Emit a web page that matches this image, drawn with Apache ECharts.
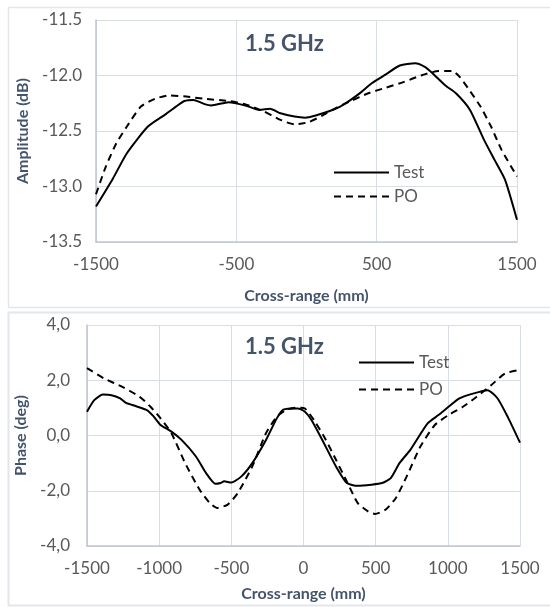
<!DOCTYPE html>
<html>
<head>
<meta charset="utf-8">
<script src="https://cdn.jsdelivr.net/npm/echarts@6/dist/echarts.min.js"></script>
<style>
html,body{margin:0;padding:0;background:#fff;}
#chart{width:550px;height:607px;}
</style>
</head>
<body>
<div id="chart"></div>
<script>
// ---- Top panel: Amplitude (dB) at 1.5 GHz ----
const ampTestX = [-1500,-1380,-1280,-1130,-1005,-930,-870,-805,-720,-680,-555,-435,-335,-260,-185,-85,-10,65,165,240,315,390,465,565,665,775,840,890,990,1065,1165,1265,1340,1415,1500];
const ampTestY = [-13.18,-12.93,-12.70,-12.46,-12.35,-12.28,-12.23,-12.22,-12.26,-12.27,-12.24,-12.27,-12.31,-12.30,-12.34,-12.37,-12.38,-12.36,-12.32,-12.28,-12.22,-12.15,-12.07,-11.99,-11.91,-11.89,-11.92,-11.97,-12.09,-12.16,-12.31,-12.58,-12.76,-12.94,-13.30];
const ampPOX = [-1500,-1430,-1355,-1280,-1180,-1080,-980,-855,-730,-555,-435,-310,-185,-85,15,115,215,315,440,565,690,815,940,1040,1090,1165,1240,1315,1390,1500];
const ampPOY = [-13.07,-12.82,-12.61,-12.46,-12.28,-12.21,-12.18,-12.19,-12.21,-12.23,-12.26,-12.32,-12.40,-12.44,-12.42,-12.36,-12.29,-12.23,-12.16,-12.11,-12.06,-12.00,-11.96,-11.96,-12.01,-12.14,-12.28,-12.46,-12.67,-12.91];

// ---- Bottom panel: Phase (deg) at 1.5 GHz ----
const phTestX = [-1500,-1450,-1390,-1330,-1270,-1230,-1160,-1085,-1040,-990,-915,-845,-745,-675,-610,-575,-550,-500,-430,-355,-260,-185,-140,-40,10,55,130,225,300,375,470,545,605,665,740,860,935,1005,1080,1150,1275,1345,1420,1500];
const phTestY = [0.86,1.28,1.48,1.46,1.34,1.18,1.06,0.92,0.70,0.38,0.14,-0.16,-0.76,-1.36,-1.75,-1.72,-1.66,-1.70,-1.48,-1.00,-0.16,0.62,0.94,0.98,0.86,0.56,-0.16,-1.12,-1.72,-1.82,-1.78,-1.72,-1.54,-1.00,-0.52,0.44,0.74,1.04,1.34,1.48,1.64,1.34,0.62,-0.26];
const phPOX = [-1500,-1380,-1255,-1135,-1060,-990,-915,-820,-720,-650,-600,-525,-455,-355,-260,-185,-115,-40,10,80,155,225,300,375,445,495,570,640,715,810,910,1005,1105,1200,1300,1395,1500];
const phPOY = [2.44,2.06,1.76,1.40,1.04,0.62,0.08,-1.00,-1.96,-2.44,-2.62,-2.50,-2.08,-1.12,0.08,0.68,0.94,1.01,0.98,0.50,-0.16,-0.88,-1.66,-2.44,-2.74,-2.84,-2.68,-2.26,-1.48,-0.40,0.38,0.74,1.04,1.40,1.82,2.24,2.38];

// ---- Labels ----
const seriesNames = ['Test', 'PO'];
const panelTitle = '1.5 GHz';
const xAxisTitle = 'Cross-range (mm)';
const ampAxisTitle = 'Amplitude (dB)';
const phAxisTitle = 'Phase (deg)';

const zip = (xs, ys) => xs.map((x, i) => [x, ys[i]]);

const FONT = 'Lato';
const TICK = '#595959';
const TITLE = '#44546A';
const GRIDC = '#D9DEE5';
const AXISC = '#BFC6D1';

function xAxisCfg(gridIndex, interval, gap) {
  return {
    type: 'value', gridIndex, min: -1500, max: 1500, interval,
    name: xAxisTitle, nameLocation: 'middle', nameGap: gap,
    nameTextStyle: {fontFamily: FONT, fontSize: 16, fontWeight: 'bold', color: TITLE},
    axisLine: {show: true, onZero: false, lineStyle: {color: AXISC, width: 1.5}},
    axisTick: {show: false},
    axisLabel: {fontFamily: FONT, fontSize: 17, color: TICK, margin: 14, showMinLabel: true, showMaxLabel: true, formatter: v => String(v)},
    splitLine: {show: true, lineStyle: {color: GRIDC, width: 1}}
  };
}
function yAxisCfg(gridIndex, min, max, interval, name, gap, fmt, margin) {
  return {
    type: 'value', gridIndex, min, max, interval,
    name, nameLocation: 'middle', nameGap: gap,
    nameTextStyle: {fontFamily: FONT, fontSize: 16, fontWeight: 'bold', color: TITLE},
    axisLine: {show: true, onZero: false, lineStyle: {color: AXISC, width: 1.5}},
    axisTick: {show: false},
    axisLabel: {fontFamily: FONT, fontSize: 17, color: TICK, margin, formatter: fmt},
    splitLine: {show: true, lineStyle: {color: GRIDC, width: 1}}
  };
}
const solid = {color: '#000', width: 2, type: 'solid'};
const dashed = {color: '#000', width: 2, type: [7, 5]};

const chart = echarts.init(document.getElementById('chart'), null, {renderer: 'canvas'});
chart.setOption({
  animation: false,
  backgroundColor: '#fff',
  graphic: [
    {type: 'rect', shape: {x: 8.5, y: 7.5, width: 560, height: 300}, style: {fill: 'none', stroke: '#E3E6EB', lineWidth: 1.5}},
    {type: 'rect', shape: {x: 8.5, y: 312.5, width: 560, height: 293}, style: {fill: 'none', stroke: '#E3E6EB', lineWidth: 2}}
  ],
  title: [
    {text: panelTitle, left: 240, top: 28, textStyle: {fontFamily: FONT, fontSize: 22, fontWeight: 'bold', color: TITLE}},
    {text: panelTitle, left: 240, top: 331, textStyle: {fontFamily: FONT, fontSize: 22, fontWeight: 'bold', color: TITLE}}
  ],
  legend: [
    {orient: 'vertical', left: 333, top: 164, padding: 0, itemWidth: 55, itemHeight: 14, itemGap: 7, itemStyle: {opacity: 0},
     data: seriesNames, textStyle: {fontFamily: FONT, fontSize: 17, color: TICK}},
    {orient: 'vertical', left: 358, top: 354, padding: 0, itemWidth: 55, itemHeight: 14, itemGap: 10, itemStyle: {opacity: 0},
     data: seriesNames, textStyle: {fontFamily: FONT, fontSize: 17, color: TICK}}
  ],
  grid: [
    {left: 96, right: 33, top: 20, height: 222},
    {left: 87, right: 30, top: 325, height: 221}
  ],
  xAxis: [xAxisCfg(0, 1000, 46), xAxisCfg(1, 500, 40)],
  yAxis: [
    yAxisCfg(0, -13.5, -11.5, 0.5, ampAxisTitle, 60, v => v.toFixed(1), 14),
    yAxisCfg(1, -4, 4, 2, phAxisTitle, 52, v => v.toFixed(1).replace('.', ','), 17)
  ],
  series: [
    {name: 'Test', type: 'line', xAxisIndex: 0, yAxisIndex: 0, data: zip(ampTestX, ampTestY), showSymbol: false, symbol: 'none', smooth: 0.2, lineStyle: solid, itemStyle: {color: '#000'}},
    {name: 'PO', type: 'line', xAxisIndex: 0, yAxisIndex: 0, data: zip(ampPOX, ampPOY), showSymbol: false, symbol: 'none', smooth: 0.2, lineStyle: dashed, itemStyle: {color: '#000'}},
    {name: 'Test', type: 'line', xAxisIndex: 1, yAxisIndex: 1, data: zip(phTestX, phTestY), showSymbol: false, symbol: 'none', smooth: 0.2, lineStyle: solid, itemStyle: {color: '#000'}},
    {name: 'PO', type: 'line', xAxisIndex: 1, yAxisIndex: 1, data: zip(phPOX, phPOY), showSymbol: false, symbol: 'none', smooth: 0.2, lineStyle: dashed, itemStyle: {color: '#000'}}
  ]
});
</script>
</body>
</html>
